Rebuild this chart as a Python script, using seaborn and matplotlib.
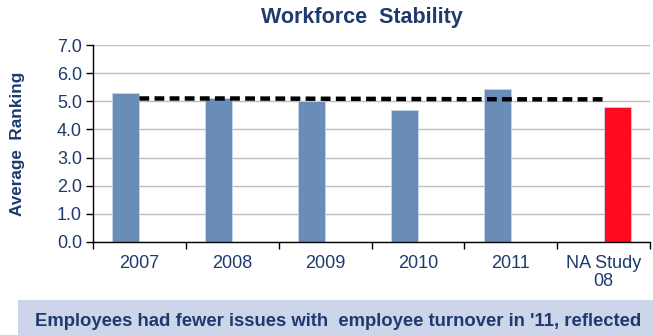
import numpy as np
import pandas as pd
import matplotlib
matplotlib.use("Agg")
import matplotlib.pyplot as plt
from matplotlib.patches import Rectangle
import seaborn as sns

# ---- data ----
categories = ["2007", "2008", "2009", "2010", "2011", "NA Study\n08"]
company_values = [5.3, 5.1, 5.0, 4.7, 5.45, np.nan]
study_values = [np.nan, np.nan, np.nan, np.nan, np.nan, 4.8]
average_values = [5.1, 5.1, 5.09, 5.08, 5.07, 5.07]
series_names = ["Company", "NA Study"]
yticks = [0, 1, 2, 3, 4, 5, 6, 7]

title = "Workforce  Stability"
ylabel = "Average  Ranking"
caption = "Employees had fewer issues with  employee turnover in '11, reflected"

navy = "#1F3A6E"
blue = "#6A8DB7"
red = "#FF0A1F"

sns.set_theme(style="white")
plt.rcParams["font.family"] = ["Liberation Sans", "DejaVu Sans"]

df = pd.DataFrame({
    "cat": categories * 2,
    "series": [series_names[0]] * len(categories) + [series_names[1]] * len(categories),
    "value": company_values + study_values,
})

fig = plt.figure(figsize=(6.53, 3.35), dpi=100)
ax = fig.add_axes([93 / 653, 1 - 242 / 335, (650 - 93) / 653, (242 - 45) / 335])

sns.barplot(data=df, x="cat", y="value", hue="series", order=categories,
            hue_order=series_names, palette=[blue, red], width=0.58, saturation=1,
            dodge=True, ax=ax, legend=False, edgecolor="#C5D5EA", linewidth=0.6)

sns.lineplot(x=np.arange(len(categories)), y=average_values, ax=ax, color="black",
             linewidth=3.2, dashes=False)
ax.lines[-1].set_dashes((2.2, 1.2))
ax.lines[-1].set_dash_capstyle("butt")

ax.set_ylim(0, 7)
ax.set_xlim(-0.5, len(categories) - 0.5)
ax.set_yticks(yticks)
ax.set_yticklabels([f"{v:.1f}" for v in yticks])
ax.yaxis.grid(True, color="#BDBDBD", linewidth=1)
ax.set_axisbelow(True)

for s in ["top", "right"]:
    ax.spines[s].set_visible(False)
for s in ["left", "bottom"]:
    ax.spines[s].set_color("black")
    ax.spines[s].set_linewidth(1)

ax.set_xticks(np.arange(len(categories)))
ax.set_xticklabels(categories, linespacing=1.15)
ax.set_xticks(np.arange(len(categories) + 1) - 0.5, minor=True)
ax.tick_params(axis="x", which="major", length=0, pad=9, labelsize=13, labelcolor=navy)
ax.tick_params(axis="x", which="minor", length=5, width=1, color="black", direction="out", bottom=True)
ax.tick_params(axis="y", which="major", length=5, width=1, color="black", direction="out",
               left=True, labelsize=13, labelcolor=navy, pad=3)

ax.set_xlabel("")
ax.set_ylabel(ylabel, fontsize=12.3, fontweight="bold", color=navy)
ax.yaxis.set_label_coords(-0.122, 0.5)

fig.text(362 / 653, 1 - 17 / 335, title, ha="center", va="center", fontsize=15.5,
         fontweight="bold", color=navy)

fig.patches.append(Rectangle((18 / 653, 0), 1, 1 - 300 / 335, transform=fig.transFigure,
                             facecolor="#CDD5EA", edgecolor="none", zorder=0))
fig.text(338 / 653, 1 - 321 / 335, caption, ha="center", va="center",
         fontsize=13.3, fontweight="bold", color=navy)

fig.savefig("out.png", dpi=100)
